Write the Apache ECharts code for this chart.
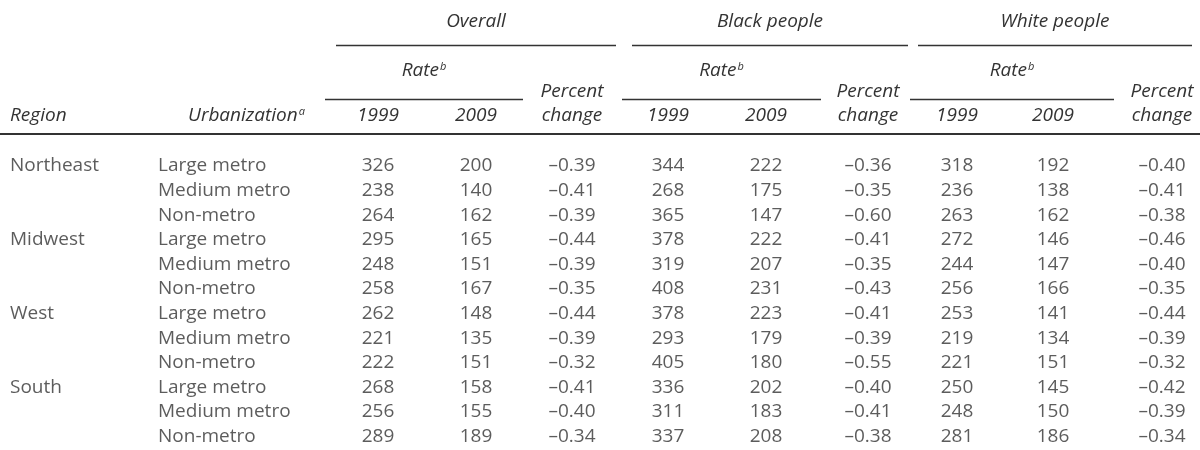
<!DOCTYPE html>
<html>
<head>
<meta charset="utf-8">
<script src="https://cdn.jsdelivr.net/npm/echarts@6/dist/echarts.min.js"></script>
<style>
  html, body { margin: 0; padding: 0; background: #fff; }
  #chart { width: 1200px; height: 450px; }
</style>
</head>
<body>
<div id="chart"></div>
<script>
// table data
const regionNames = ['Northeast', 'Midwest', 'West', 'South'];
const urbanLevels = ['Large metro', 'Medium metro', 'Non-metro'];

const overall1999 = [326, 238, 264, 295, 248, 258, 262, 221, 222, 268, 256, 289];
const overall2009 = [200, 140, 162, 165, 151, 167, 148, 135, 151, 158, 155, 189];
const overallPct = [-0.39, -0.41, -0.39, -0.44, -0.39, -0.35, -0.44, -0.39, -0.32, -0.41, -0.40, -0.34];

const black1999 = [344, 268, 365, 378, 319, 408, 378, 293, 405, 336, 311, 337];
const black2009 = [222, 175, 147, 222, 207, 231, 223, 179, 180, 202, 183, 208];
const blackPct = [-0.36, -0.35, -0.60, -0.41, -0.35, -0.43, -0.41, -0.39, -0.55, -0.40, -0.41, -0.38];

const white1999 = [318, 236, 263, 272, 244, 256, 253, 219, 221, 250, 248, 281];
const white2009 = [192, 138, 162, 146, 147, 166, 141, 134, 151, 145, 150, 186];
const whitePct = [-0.40, -0.41, -0.38, -0.46, -0.40, -0.35, -0.44, -0.39, -0.32, -0.42, -0.39, -0.34];

const groups = ['Overall', 'Black people', 'White people'];
const years = ['1999', '2009'];

// layout (pixels)
const FONT = '"Open Sans", sans-serif';
const SIZE = 19;
const COLOR = '#333';
const ROW_H = 24.6;
const FIRST_ROW = 166;
const groupCols = [
  {c1999: 378, c2009: 476, pct: 572, line: [336, 616], rate: [325, 523]},
  {c1999: 668, c2009: 766, pct: 868, line: [632, 908], rate: [622, 821]},
  {c1999: 957, c2009: 1053, pct: 1162, line: [918, 1192], rate: [910, 1114]}
];
const regionX = 10;
const urbanX = 158;

// rows of the table
const rowKeys = [];
const regionCol = [];
const urbanCol = [];
regionNames.forEach(function (r) {
  urbanLevels.forEach(function (u, j) {
    rowKeys.push(r + ' / ' + u);
    regionCol.push(j === 0 ? r : '');
    urbanCol.push(u);
  });
});

const fmtPct = function (v) {
  return (v < 0 ? '\u2013' : '') + Math.abs(v).toFixed(2);
};

function textColumn(x, values, align, fmt) {
  return {
    type: 'scatter',
    symbolSize: 0,
    silent: true,
    data: values.map(function (v, i) { return [x, rowKeys[i], v]; }),
    label: {
      show: true,
      position: 'inside',
      align: align,
      verticalAlign: 'middle',
      fontFamily: FONT,
      fontSize: SIZE,
      color: COLOR,
      formatter: function (p) {
        const v = p.value[2];
        return fmt ? fmt(v) : String(v);
      }
    }
  };
}

const series = [
  textColumn(regionX, regionCol, 'left'),
  textColumn(urbanX, urbanCol, 'left')
];
const numberSets = [
  [overall1999, overall2009, overallPct],
  [black1999, black2009, blackPct],
  [white1999, white2009, whitePct]
];
numberSets.forEach(function (set, g) {
  const col = groupCols[g];
  series.push(textColumn(col.c1999, set[0], 'center'));
  series.push(textColumn(col.c2009, set[1], 'center'));
  series.push(textColumn(col.pct, set[2], 'center', fmtPct));
});

// header
const headText = function (text, x, y, align) {
  return {
    type: 'text',
    x: x, y: y,
    style: {
      text: text,
      font: 'italic ' + SIZE + 'px ' + FONT,
      fill: COLOR,
      align: align || 'center',
      verticalAlign: 'middle'
    }
  };
};
const supText = function (main, sup, x, y, align) {
  return {
    type: 'text',
    x: x, y: y,
    style: {
      text: '{m|' + main + '}{s|' + sup + '}',
      align: align || 'center',
      verticalAlign: 'middle',
      rich: {
        m: {font: 'italic ' + SIZE + 'px ' + FONT, fill: COLOR},
        s: {font: 'italic 11px ' + FONT, fill: COLOR, verticalAlign: 'top', padding: [0, 0, 8, 1]}
      }
    }
  };
};
const hLine = function (x1, x2, y, w) {
  return {
    type: 'line',
    shape: {x1: x1, y1: y, x2: x2, y2: y},
    style: {stroke: '#333', lineWidth: w || 1}
  };
};

const graphic = [];
groups.forEach(function (name, g) {
  const col = groupCols[g];
  graphic.push(headText(name, (col.line[0] + col.line[1]) / 2, 22));
  graphic.push(hLine(col.line[0], col.line[1], 45.5, 1.3));
  graphic.push(supText('Rate', 'b', (col.rate[0] + col.rate[1]) / 2, 71));
  graphic.push(hLine(col.rate[0], col.rate[1], 99.5, 1.3));
  graphic.push(headText('Percent', col.pct, 92));
  graphic.push(headText('change', col.pct, 116));
  graphic.push(headText(years[0], col.c1999, 116));
  graphic.push(headText(years[1], col.c2009, 116));
});
graphic.push(headText('Region', regionX, 116, 'left'));
graphic.push(supText('Urbanization', 'a', 188, 116, 'left'));
graphic.push(hLine(0, 1200, 134, 2.2));

const chart = echarts.init(document.getElementById('chart'), null, {renderer: 'canvas'});
chart.setOption({
  animation: false,
  grid: {left: 0, right: 0, top: FIRST_ROW - ROW_H / 2, height: ROW_H * rowKeys.length},
  xAxis: {type: 'value', min: 0, max: 1200, show: false},
  yAxis: {type: 'category', data: rowKeys, inverse: true, show: false},
  series: series,
  graphic: graphic
});
</script>
</body>
</html>
